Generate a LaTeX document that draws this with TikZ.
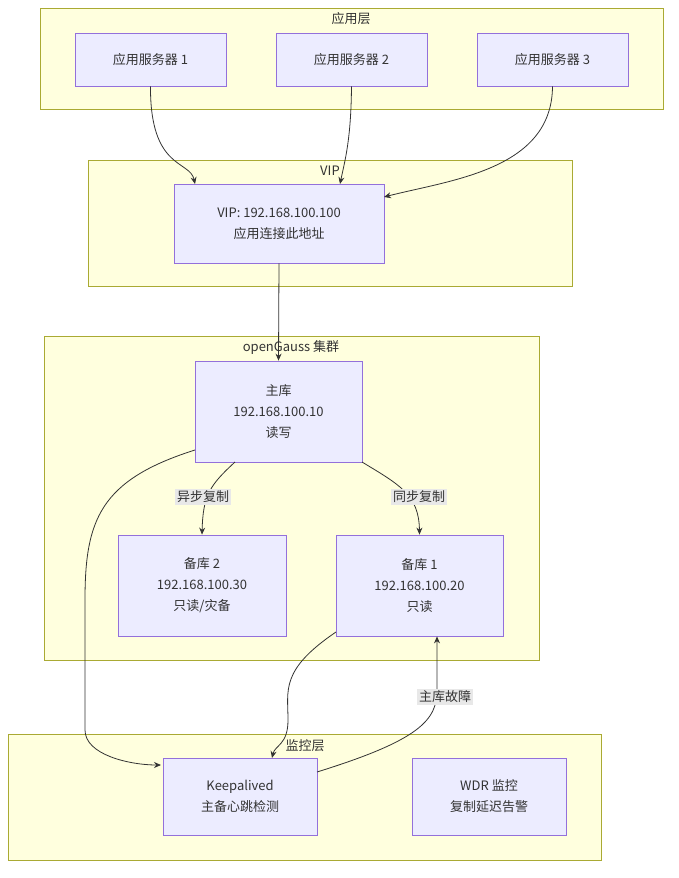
\documentclass[tikz,border=0pt]{standalone}
\usepackage{fontspec}
\setmainfont{Noto Sans CJK SC}
\usetikzlibrary{arrows.meta}
\definecolor{gfill}{HTML}{FFFFDE}\definecolor{gline}{HTML}{AAAA33}
\definecolor{nfill}{HTML}{ECECFF}\definecolor{nline}{HTML}{9370DB}
\definecolor{txt}{HTML}{333333}\definecolor{lbg}{HTML}{E8E8E8}
\tikzset{
 grp/.style={draw=gline,fill=gfill,line width=0.8pt},
 nd/.style={draw=nline,fill=nfill,line width=0.8pt,text=txt,font=\fontsize{13}{21}\selectfont,align=center},
 ttl/.style={text=txt,font=\fontsize{13}{15}\selectfont},
 ed/.style={draw=txt,line width=0.8pt,-{Stealth[length=7pt,width=6pt]}},
 lb/.style={fill=lbg,text=txt,font=\fontsize{13}{15}\selectfont,inner sep=2pt}
}
\begin{document}
\begin{tikzpicture}[x=1pt,y=-1pt]
\useasboundingbox (0,0) rectangle (679,878);
\draw[grp] (40,8) rectangle (663,109); \node[ttl] at (351,19) {应用层};
\draw[grp] (88,160) rectangle (572,286); \node[ttl] at (330,171) {VIP};
\draw[grp] (44,336) rectangle (539,660); \node[ttl] at (291,348) {openGauss 集群};
\draw[grp] (8,734) rectangle (601,860); \node[ttl] at (305,746) {监控层};
\node[nd,minimum width=151pt,minimum height=53pt] (a1) at (150.5,59.5) {应用服务器 1};
\node[nd,minimum width=151pt,minimum height=53pt] (a2) at (351.5,59.5) {应用服务器 2};
\node[nd,minimum width=151pt,minimum height=53pt] (a3) at (552.5,59.5) {应用服务器 3};
\node[nd,minimum width=210pt,minimum height=79pt] (vip) at (279,223.5) {VIP: 192.168.100.100\\应用连接此地址};
\node[nd,minimum width=167pt,minimum height=101pt] (m) at (278.5,411.5) {主库\\192.168.100.10\\读写};
\node[nd,minimum width=168pt,minimum height=101pt] (s2) at (202,585.5) {备库 2\\192.168.100.30\\只读/灾备};
\node[nd,minimum width=167pt,minimum height=101pt] (s1) at (419.5,585.5) {备库 1\\192.168.100.20\\只读};
\node[nd,minimum width=154pt,minimum height=77pt] (k) at (240,796.5) {Keepalived\\主备心跳检测};
\node[nd,minimum width=154pt,minimum height=77pt] (w) at (489,796.5) {WDR 监控\\复制延迟告警};
\draw[ed] (a1.south) .. controls (150,170) and (190,160) .. (195,184);
\draw[ed] (a2.south) .. controls (351,140) and (345,160) .. (340,184);
\draw[ed] (a3.south) .. controls (552,170) and (450,180) .. (384,197);
\draw[ed] (vip.south) -- (m.north);
\draw[ed] (235,462) .. controls (210,485) and (203,495) .. (s2.north);
\draw[ed] (362,462) .. controls (400,485) and (419,495) .. (s1.north);
\node[lb] at (203,497) {异步复制};
\node[lb] at (419,497) {同步复制};
\draw[ed] (195,450) .. controls (100,480) and (85,520) .. (85,600) -- (85,730) .. controls (85,755) and (130,765) .. (161,765);
\draw[ed] (336,632) .. controls (280,670) and (288,690) .. (288,720) .. controls (288,745) and (275,745) .. (272,758);
\draw[ed] (317,772) .. controls (420,740) and (437,720) .. (437,690) -- (s1.south -| 437,0);
\node[lb] at (445,697) {主库故障};
\end{tikzpicture}
\end{document}
